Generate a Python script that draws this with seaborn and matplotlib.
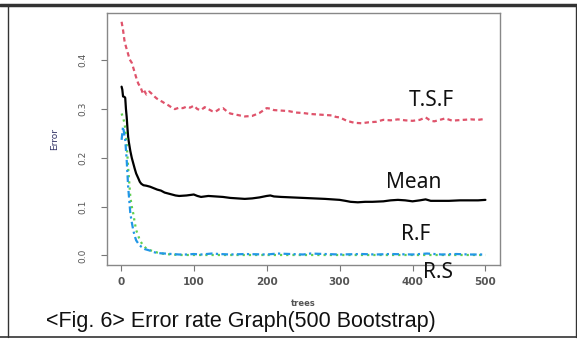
import numpy as np
import pandas as pd
import matplotlib
matplotlib.use("Agg")
import matplotlib.pyplot as plt
from matplotlib.lines import Line2D
import seaborn as sns

# ---- data ----
tsf_x = [1, 3, 5, 7, 9, 12, 15, 17, 20, 22, 24, 27, 30, 32, 35, 39, 42, 46, 49, 53, 57, 60, 65, 70, 74, 80, 85, 90,
         95, 100, 105, 110, 115, 120, 125, 130, 135, 140, 145, 150, 160, 170, 180, 190, 200, 205, 210, 220, 230,
         240, 250, 260, 270, 280, 290, 295, 300, 310, 320, 330, 340, 350, 360, 370, 380, 390, 400, 410, 418,
         425, 430, 440, 445, 455, 460, 470, 480, 490, 500]
tsf_y = [0.479, 0.462, 0.440, 0.428, 0.418, 0.402, 0.395, 0.385, 0.370, 0.360, 0.352, 0.345, 0.333, 0.338, 0.330,
         0.336, 0.332, 0.326, 0.322, 0.318, 0.315, 0.312, 0.308, 0.303, 0.300, 0.303, 0.302, 0.305, 0.303, 0.307,
         0.300, 0.298, 0.304, 0.300, 0.296, 0.295, 0.300, 0.302, 0.296, 0.291, 0.288, 0.285, 0.286, 0.292, 0.302,
         0.301, 0.298, 0.297, 0.296, 0.293, 0.292, 0.290, 0.289, 0.288, 0.287, 0.284, 0.283, 0.276, 0.272, 0.271,
         0.273, 0.274, 0.278, 0.277, 0.279, 0.277, 0.276, 0.278, 0.283, 0.276, 0.275, 0.279, 0.281, 0.276, 0.277,
         0.278, 0.279, 0.278, 0.280]

mean_x = [1, 2, 3, 5, 6, 7, 8, 9, 10, 11, 13, 15, 17, 19, 21, 24, 26, 28, 31, 35, 40, 45, 50, 55, 60, 65, 70, 75,
          80, 90, 100, 105, 110, 120, 130, 140, 150, 160, 170, 180, 190, 200, 205, 210, 220, 235, 250, 265, 280,
          290, 300, 308, 315, 325, 335, 345, 360, 370, 380, 390, 400, 410, 418, 425, 435, 450, 465, 480, 490, 500]
mean_y = [0.346, 0.340, 0.326, 0.325, 0.323, 0.300, 0.284, 0.262, 0.243, 0.232, 0.214, 0.200, 0.189, 0.178, 0.168,
          0.158, 0.151, 0.147, 0.144, 0.143, 0.141, 0.138, 0.135, 0.133, 0.129, 0.127, 0.125, 0.123, 0.122, 0.123,
          0.125, 0.122, 0.120, 0.122, 0.121, 0.120, 0.118, 0.117, 0.116, 0.117, 0.119, 0.122, 0.123, 0.121, 0.120,
          0.119, 0.118, 0.117, 0.116, 0.115, 0.114, 0.112, 0.110, 0.109, 0.110, 0.110, 0.111, 0.113, 0.114, 0.113,
          0.111, 0.113, 0.115, 0.112, 0.112, 0.112, 0.113, 0.113, 0.113, 0.114]

rf_x = [1, 3, 5, 7, 8, 10, 12, 13, 15, 17, 19, 21, 24, 26, 30, 35, 40, 45, 50, 60, 70, 80, 100, 130, 160, 200, 250,
        300, 350, 400, 450, 500]
rf_y = [0.291, 0.283, 0.271, 0.250, 0.230, 0.180, 0.140, 0.120, 0.100, 0.086, 0.068, 0.052, 0.040, 0.031, 0.022,
        0.014, 0.011, 0.008, 0.006, 0.003, 0.002, 0.001, 0.001, 0.001, 0.001, 0.001, 0.001, 0.001, 0.001, 0.001,
        0.001, 0.001]

rs_x = [1, 2, 3, 4, 6, 8, 10, 12, 13, 15, 17, 19, 21, 25, 28, 33, 40, 45, 50, 60, 70, 80, 90, 100, 110, 125, 135,
        150, 170, 200, 215, 250, 260, 300, 330, 350, 370, 400, 420, 440, 460, 480, 500]
rs_y = [0.237, 0.250, 0.264, 0.255, 0.237, 0.196, 0.141, 0.105, 0.086, 0.068, 0.052, 0.040, 0.031, 0.022, 0.018,
        0.013, 0.010, 0.007, 0.005, 0.004, 0.003, 0.002, 0.002, 0.003, 0.002, 0.004, 0.003, 0.002, 0.003, 0.002,
        0.004, 0.002, 0.004, 0.002, 0.003, 0.002, 0.003, 0.002, 0.004, 0.002, 0.003, 0.002, 0.002]

labels = ["T.S.F", "Mean", "R.F", "R.S"]
label_pos = [(395, 0.318), (364, 0.150), (384, 0.042), (414, -0.034)]
x_ticks = [0, 100, 200, 300, 400, 500]
y_ticks = [0.0, 0.1, 0.2, 0.3, 0.4]
caption = "<Fig. 6> Error rate Graph(500 Bootstrap)"

df = pd.concat([
    pd.DataFrame({"trees": tsf_x, "Error": tsf_y, "s": "T.S.F"}),
    pd.DataFrame({"trees": mean_x, "Error": mean_y, "s": "Mean"}),
    pd.DataFrame({"trees": rf_x, "Error": rf_y, "s": "R.F"}),
    pd.DataFrame({"trees": rs_x, "Error": rs_y, "s": "R.S"}),
])

sns.set_style("white")
plt.rcParams['font.family'] = ['DejaVu Sans']

W, H = 577, 339
fig = plt.figure(figsize=(W / 100, H / 100), dpi=100)
ax = fig.add_axes([107 / W, 1 - 265 / H, (500 - 107) / W, (265 - 13) / H])

palette = {"T.S.F": "#DF536B", "Mean": "#000000", "R.F": "#61D04F", "R.S": "#2297E6"}
styles = {"T.S.F": (0, (2, 1.5)), "Mean": "-", "R.F": (0, (1, 1.8)), "R.S": (0, (3, 1.5, 1, 1.5))}
for name in ["T.S.F", "Mean", "R.F", "R.S"]:
    sub = df[df.s == name]
    sns.lineplot(data=sub, x="trees", y="Error", color=palette[name], linestyle=styles[name],
                 lw=1.6, ax=ax, legend=False, estimator=None)

ax.set_xlim(-19, 520)
ax.set_ylim(-0.0195, 0.497)
ax.set_xticks(x_ticks)
ax.set_yticks(y_ticks)
ax.set_xticklabels([str(v) for v in x_ticks], fontsize=7.5, fontweight="bold", color="#555555")
ax.set_yticklabels([f"{v:.1f}" for v in y_ticks], fontsize=6.5, rotation=90, va="center", color="#555555")
ax.tick_params(axis="both", direction="out", length=4.3, width=0.8, color="#777777")
ax.tick_params(axis="x", pad=4)
ax.tick_params(axis="y", pad=10)
ax.tick_params(left=True, bottom=True)
for sp in ax.spines.values():
    sp.set_color("#888888")
    sp.set_linewidth(1.0)
ax.set_xlabel("trees", fontsize=6, fontweight="bold", color="#555555", labelpad=9)
ax.set_ylabel("Error", fontsize=6.5, color="#333366", labelpad=14)

for lab, (lx, ly) in zip(labels, label_pos):
    ax.text(lx, ly, lab, fontsize=15, family="Noto Sans", color="#111111", clip_on=False, va="center")

fig.text(46 / W, 1 - 321 / H, caption, fontsize=15.5, family="Liberation Sans", va="center",
         ha="left", color="#111111")

# outer frame lines
fig.add_artist(Line2D([0, 1], [1 - 5 / H, 1 - 5 / H], transform=fig.transFigure, color="#333333", lw=2.5))
fig.add_artist(Line2D([8 / W, 8 / W], [1 - 5 / H, 1 - 337 / H], transform=fig.transFigure, color="#333333", lw=1))
fig.add_artist(Line2D([575.5 / W, 575.5 / W], [1 - 5 / H, 1 - 337 / H], transform=fig.transFigure, color="#333333", lw=1))
fig.add_artist(Line2D([0, 1], [1 - 337 / H, 1 - 337 / H], transform=fig.transFigure, color="#333333", lw=1.2))

fig.savefig("out.png", dpi=100)
